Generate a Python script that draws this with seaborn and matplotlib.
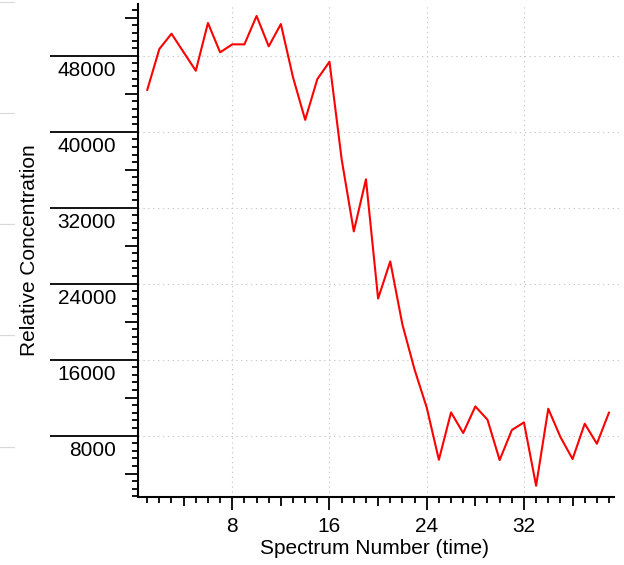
import matplotlib
matplotlib.use("Agg")

import matplotlib.pyplot as plt
from matplotlib.lines import Line2D
from matplotlib.ticker import FixedLocator
import pandas as pd
import seaborn as sns

# ── Data ──────────────────────────────────────────────────────────────
spectrum = list(range(1, 40))
concentration = [
    44380, 48710, 50320, 48370, 46420, 51450, 48360, 49200, 49200, 52190,
    48990, 51340, 45720, 41250, 45540, 47370, 37100, 29500, 34990, 22430,
    26340, 19690, 14950, 10950, 5450, 10440, 8270, 11070, 9670, 5420,
    8580, 9390, 2710, 10830, 7850, 5530, 9250, 7140, 10440,
]
y_major = [8000, 16000, 24000, 32000, 40000, 48000]
x_major = [8, 16, 24, 32]

sns.set_style("ticks")
plt.rcParams["font.family"] = ["Liberation Sans", "DejaVu Sans"]

df = pd.DataFrame({"spectrum": spectrum, "conc": concentration})

fig = plt.figure(figsize=(6.24, 5.65), dpi=100)
ax = fig.add_axes([137.7 / 624, 1 - 497.3 / 565, (620.7 - 137.7) / 624, (497.3 - 4) / 565])

sns.lineplot(data=df, x="spectrum", y="conc", color="#ff0000", linewidth=1.5, ax=ax)

ax.set_xlim(0.22, 39.96)
ax.set_ylim(1500, 53450)

for s in ["top", "right"]:
    ax.spines[s].set_visible(False)
for s in ["left", "bottom"]:
    ax.spines[s].set_color("black")
    ax.spines[s].set_linewidth(1.5)
ax.spines["bottom"].set_bounds(0.22, 39.4)

# ticks
ax.xaxis.set_major_locator(FixedLocator(x_major))
ax.xaxis.set_minor_locator(FixedLocator([v for v in range(1, 40) if v % 8]))
ax.yaxis.set_major_locator(FixedLocator(y_major))
ax.yaxis.set_minor_locator(FixedLocator([v for v in range(1600, 53000, 800) if v % 8000]))

ax.tick_params(axis="both", which="both", bottom=True, left=True, top=False, right=False)
ax.tick_params(axis="x", which="major", direction="out", length=9.4, width=1.3,
               color="black", labelsize=15, pad=4.5, labelcolor="black")
ax.tick_params(axis="x", which="minor", direction="out", length=4.3, width=1.3, color="black")
ax.tick_params(axis="y", which="major", direction="out", length=63.4, width=1.3,
               color="black", labelleft=False)
ax.tick_params(axis="y", which="minor", direction="out", length=4.3, width=1.3, color="black")

ax.grid(True, which="major", color="#c8c8c8", linewidth=0.8, linestyle=(0, (1.2, 3.2)))

# y tick labels hang below the long tick lines
for v in y_major:
    ax.annotate(f"{v}", xy=(0, v), xycoords=ax.get_yaxis_transform(),
                xytext=(-15.6, -10.6), textcoords="offset points",
                ha="right", va="center", fontsize=15, color="black")

ax.set_xlabel("Spectrum Number (time)", fontsize=15, color="black")
ax.set_ylabel("Relative Concentration", fontsize=15, color="black")
ax.xaxis.set_label_coords((374 - 137.7) / 483, (497.3 - 548) / 493.3)
ax.xaxis.label.set_va("center")
ax.yaxis.set_label_coords((30 - 137.7) / 483, (497.3 - 250) / 493.3)
ax.yaxis.label.set_va("center")

# medium ticks at every 4 / 4000
fig.canvas.draw()
for tick, loc in zip(ax.xaxis.get_minor_ticks(), ax.xaxis.get_minorticklocs()):
    if round(loc) % 4 == 0:
        tick.tick1line.set_markersize(6.7)
for tick, loc in zip(ax.yaxis.get_minor_ticks(), ax.yaxis.get_minorticklocs()):
    if round(loc) % 4000 == 0:
        tick.tick1line.set_markersize(9.4)

# faint marks at the left edge of the original screenshot
for yp in [2, 113, 224, 335, 447]:
    fig.add_artist(Line2D([0, 14 / 624], [1 - yp / 565] * 2, color="#d8d8d8",
                          linewidth=0.8, transform=fig.transFigure))

fig.savefig("out.png", dpi=100)
